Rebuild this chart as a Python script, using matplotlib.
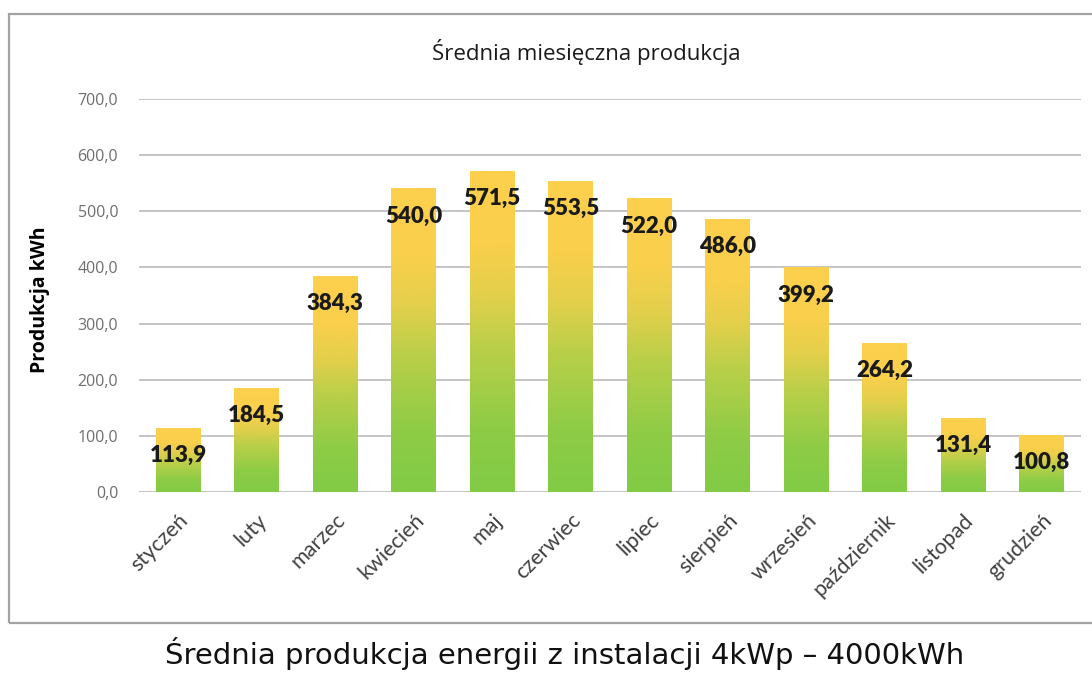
import numpy as np
import matplotlib; matplotlib.use('Agg')
import matplotlib.pyplot as plt
from matplotlib.colors import LinearSegmentedColormap
from matplotlib.patches import Rectangle

months = ['styczeń', 'luty', 'marzec', 'kwiecień', 'maj', 'czerwiec', 'lipiec',
          'sierpień', 'wrzesień', 'październik', 'listopad', 'grudzień']
prod = [113.9, 184.5, 384.3, 540.0, 571.5, 553.5, 522.0, 486.0, 399.2, 264.2, 131.4, 100.8]
yticks = [0, 100, 200, 300, 400, 500, 600, 700]

W, H = 1092, 675
fig = plt.figure(figsize=(W / 100, H / 100), dpi=100)
fig.patch.set_facecolor('white')
L, R, B, T = 139, 1081, 492, 99
ax = fig.add_axes([L / W, 1 - B / H, (R - L) / W, (B - T) / H])

# green at the bottom of each bar, yellow at the top
cmap = LinearSegmentedColormap.from_list('gy', [(0.0, '#82CB45'), (0.2, '#8ECC46'), (0.45, '#BACF49'),
                                                (0.62, '#E4CF4B'), (0.78, '#FACF4C'), (1.0, '#FDD04D')])
grad = np.linspace(0, 1, 256).reshape(-1, 1)
bw = 0.57
for i, v in enumerate(prod):
    ax.imshow(grad, cmap=cmap, origin='lower', aspect='auto', extent=(i - bw / 2, i + bw / 2, 0, v), zorder=2)
    ax.annotate(f'{v:.1f}'.replace('.', ','), (i, v), xytext=(0, -19.5), textcoords='offset points',
                ha='center', va='center', fontsize=16, fontweight='heavy', color='#1A1A1A', family='Lato', zorder=3)

ax.set_xlim(-0.5, len(months) - 0.5)
ax.set_ylim(0, 700)
ax.set_yticks(yticks)
ax.set_yticklabels([f'{t:.1f}'.replace('.', ',') for t in yticks], fontsize=11.5, color='#6E6E6E', family='Open Sans')
ax.set_xticks(range(len(months)))
ax.set_xticklabels(months, rotation=45, ha='right', rotation_mode='anchor', fontsize=15.5, color='#404040', family='Lato')
ax.tick_params(axis='both', length=0)
ax.tick_params(axis='y', pad=15)
ax.tick_params(axis='x', pad=13)
ax.grid(axis='y', color='#C4C4C4', lw=1.4, zorder=0)
ax.set_axisbelow(True)
for s in ax.spines.values(): s.set_visible(False)
ax.set_ylabel('Produkcja kWh', fontsize=14, fontweight='bold', color='#000000', family='Open Sans')
ax.yaxis.set_label_coords(-(L - 50) / (R - L), (B - 300) / (B - T))

fig.text(586 / W, 1 - 52 / H, 'Średnia miesięczna produkcja', ha='center', va='center', fontsize=16, color='#1A1A1A', family='Open Sans')
fig.patches.append(Rectangle((9 / W, 1 - 623 / H), (1100 - 9) / W, (623 - 14) / H, transform=fig.transFigure,
                             fill=False, edgecolor='#A3A3A3', lw=1.6))
fig.text(565 / W, 1 - 653 / H, 'Średnia produkcja energii z instalacji 4kWp – 4000kWh', ha='center', va='center',
         fontsize=21, color='#111111', family='DejaVu Sans')

fig.savefig('out.png', dpi=100, facecolor='white')
